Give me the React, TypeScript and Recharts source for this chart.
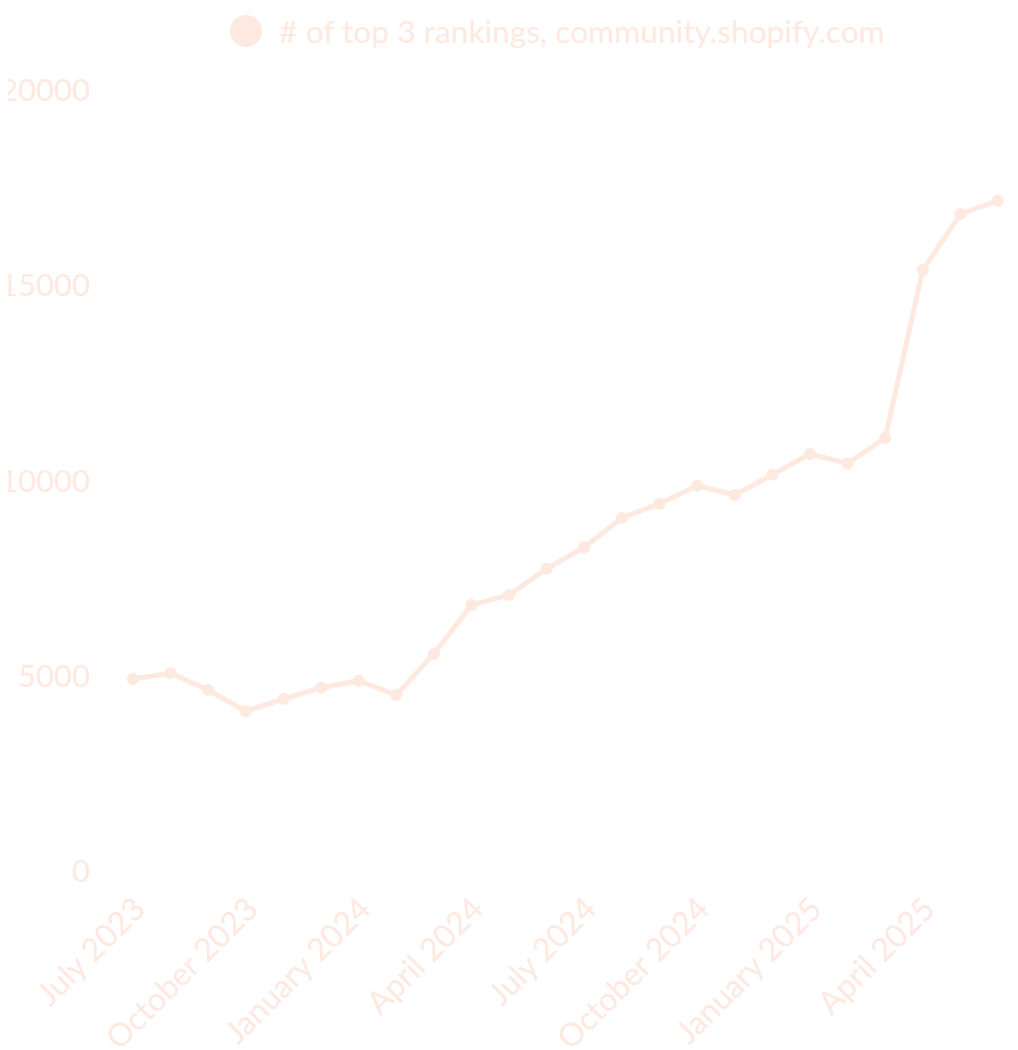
import React from "react";
import { LineChart, Line, XAxis, YAxis, Legend } from "recharts";

const COLOR = "#fde9df";
const FONT = "Lato, 'Open Sans', sans-serif";

const months = [
  "July 2023", "August 2023", "September 2023", "October 2023", "November 2023", "December 2023",
  "January 2024", "February 2024", "March 2024", "April 2024", "May 2024", "June 2024",
  "July 2024", "August 2024", "September 2024", "October 2024", "November 2024", "December 2024",
  "January 2025", "February 2025", "March 2025", "April 2025", "May 2025", "June 2025",
];

const rankings = [
  4917, 5070, 4635, 4090, 4405, 4694, 4873, 4507, 5557, 6812, 7068, 7741,
  8289, 9040, 9406, 9867, 9629, 10149, 10679, 10440, 11088, 15391, 16825, 17165,
];

const yTicks = [0, 5000, 10000, 15000, 20000];

const seriesName = "# of top 3 rankings, community.shopify.com";

const data = months.map((m, i) => ({ month: m, value: rankings[i] }));

const XTick = (props: any) => {
  const { x, y, payload } = props;
  return (
    <g transform={`translate(${x + 14},${y + 40})`}>
      <text
        textAnchor="end"
        transform="rotate(-45)"
        fill={COLOR}
        fontSize={32}
        fontFamily={FONT}
      >
        {payload.value}
      </text>
    </g>
  );
};

const LegendContent = () => (
  <div
    style={{
      display: "flex",
      alignItems: "center",
      justifyContent: "center",
      height: "100%",
      fontFamily: FONT,
      fontSize: 31.7,
      color: COLOR,
      whiteSpace: "nowrap",
    }}
  >
    <span
      style={{
        display: "inline-block",
        width: 32,
        height: 32,
        borderRadius: "50%",
        background: COLOR,
        marginRight: 17,
        flex: "none",
      }}
    />
    <span>{seriesName}</span>
  </div>
);

export default function App() {
  return (
    <div
      style={{
        width: 1018,
        height: 1050,
        marginLeft: -8,
        marginTop: -8,
        background: "#ffffff",
        position: "relative",
      }}
    >
      <LineChart
        width={1018}
        height={1050}
        data={data}
        margin={{ top: 90, right: 20, bottom: 0, left: 0 }}
      >
        <Legend
          layout="horizontal"
          verticalAlign="middle"
          align="center"
          content={<LegendContent />}
          wrapperStyle={{ top: 8, left: 125, width: 865, height: 46 }}
        />
        <XAxis
          dataKey="month"
          interval={2}
          axisLine={false}
          tickLine={false}
          tickSize={0}
          tickMargin={0}
          height={179}
          tick={<XTick />}
        />
        <YAxis
          domain={[0, 20000]}
          ticks={yTicks}
          width={133}
          axisLine={false}
          tickLine={false}
          tickSize={0}
          tickMargin={43}
          tick={{ fill: COLOR, fontSize: 31, fontFamily: FONT }}
        />
        <Line
          type="linear"
          dataKey="value"
          name={seriesName}
          stroke={COLOR}
          strokeWidth={5}
          dot={{ r: 6, fill: COLOR, stroke: COLOR, strokeWidth: 0 }}
          activeDot={false}
          isAnimationActive={false}
        />
      </LineChart>
    </div>
  );
}
